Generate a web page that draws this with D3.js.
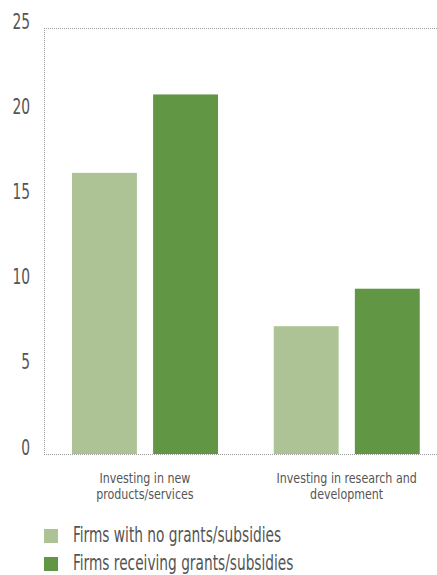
<!DOCTYPE html>
<html><head><meta charset="utf-8">
<script src="https://cdn.jsdelivr.net/npm/d3@7"></script>
<style>
html,body{margin:0;padding:0;background:#fff;}
text{font-family:"DejaVu Sans Condensed","DejaVu Sans",sans-serif;fill:#555;}
</style></head>
<body><svg id="c" width="437" height="575"></svg>
<script>
const categories = ["Investing in new|products/services", "Investing in research and|development"];
const seriesNames = ["Firms with no grants/subsidies", "Firms receiving grants/subsidies"];
const noGrants = [16.5, 7.5];
const withGrants = [21.1, 9.7];
const yTicks = [0, 5, 10, 15, 20, 25];
const colors = ["#adc395", "#619744"];

const svg = d3.select("#c");
const mLeft = 44, mRight = 447.5, mTop = 28, mBottom = 454;

const y = d3.scaleLinear().domain([0, 25]).range([mBottom, mTop]);
const x0 = d3.scaleBand().domain(categories).range([mLeft, mRight]).padding(0);
const x1 = d3.scaleBand().domain(seriesNames).range([28, 174]).paddingInner(0.2).paddingOuter(0);
const color = d3.scaleOrdinal().domain(seriesNames).range(colors);

const data = categories.map((c, i) => ({cat: c, vals: [
  {s: seriesNames[0], v: noGrants[i]},
  {s: seriesNames[1], v: withGrants[i]}
]}));

// frame (dotted)
const frame = svg.append("g").attr("stroke", "#9a9a9a").attr("stroke-width", 1).attr("stroke-dasharray", "1,1").attr("fill", "none");
frame.append("line").attr("x1", mLeft).attr("x2", 437).attr("y1", mTop + 0.5).attr("y2", mTop + 0.5);

// bars
svg.append("g").selectAll("g").data(data).join("g")
  .attr("transform", d => `translate(${x0(d.cat)},0)`)
  .selectAll("rect").data(d => d.vals).join("rect")
  .attr("x", d => x1(d.s)).attr("width", x1.bandwidth())
  .attr("y", d => y(d.v)).attr("height", d => y(0) - y(d.v))
  .attr("fill", d => color(d.s));

const frame2 = svg.append("g").attr("stroke", "#9a9a9a").attr("stroke-width", 1).attr("stroke-dasharray", "1,1").attr("fill", "none");
frame2.append("line").attr("x1", mLeft).attr("x2", 437).attr("y1", mBottom + 0.5).attr("y2", mBottom + 0.5);
frame2.append("line").attr("x1", mLeft + 0.5).attr("x2", mLeft + 0.5).attr("y1", mTop).attr("y2", mBottom);

// y axis
const yAxis = d3.axisLeft(y).tickValues(yTicks).tickSize(0).tickPadding(0);
const gy = svg.append("g").attr("transform", "translate(30,0)").call(yAxis);
gy.select(".domain").remove();
gy.selectAll("text").attr("font-size", 22).attr("dy", 0).attr("fill", "#555")
  .attr("transform", "scale(0.7,1)")
  .style("font-family", '"DejaVu Sans Condensed","DejaVu Sans",sans-serif');

// x axis labels
const xAxis = d3.axisBottom(x0).tickSize(0).tickFormat(() => "");
const gx = svg.append("g").attr("transform", `translate(0,${mBottom})`).call(xAxis);
gx.select(".domain").remove();
gx.selectAll(".tick").each(function(d) {
  const lines = d.split("|");
  const tick = d3.select(this);
  lines.forEach((l, i) => tick.append("text").attr("text-anchor", "middle").attr("font-size", 14)
    .attr("fill", "#555").attr("transform", `translate(0,${28.5 + i * 16.5}) scale(0.88,1)`).text(l));
});

// legend
const lg = svg.append("g").selectAll("g").data(seriesNames).join("g")
  .attr("transform", (d, i) => `translate(44,${529 + i * 28})`);
lg.append("rect").attr("width", 14).attr("height", 14).attr("fill", d => color(d));
lg.append("text").attr("font-size", 20.5).attr("fill", "#555")
  .attr("transform", "translate(29,13) scale(0.745,1)").text(d => d);
</script></body></html>
